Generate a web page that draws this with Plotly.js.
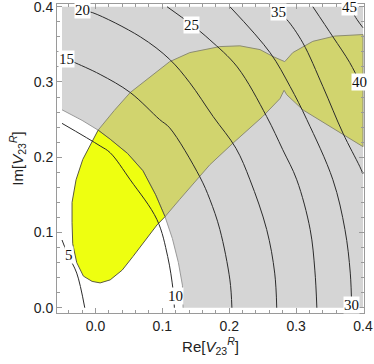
<!DOCTYPE html>
<html>
<head>
<meta charset="utf-8">
<script src="https://cdn.plot.ly/plotly-3.0.1.min.js"></script>
<style>
  body { margin: 0; background: white; }
  #plot { width: 374px; height: 364px; }
</style>
</head>
<body>
<div id="plot"></div>
<script>
// contour levels and the points (x = Re, y = Im)
const levels = [5, 10, 15, 20, 25, 30, 35, 40, 45];
const contourX = [
    [-0.050, -0.041, -0.028, -0.016],
    [-0.050, 0.007, 0.022, 0.052, 0.092, 0.108, 0.116, 0.118],
    [-0.044, -0.034, 0.007, 0.052, 0.096, 0.111, 0.156, 0.171, 0.186, 0.201, 0.204],
    [-0.019, -0.004, 0.067, 0.111, 0.141, 0.176, 0.210, 0.231, 0.256, 0.268, 0.271],
    [0.107, 0.144, 0.171, 0.212, 0.256, 0.280, 0.301, 0.321, 0.328, 0.331],
    [0.201, 0.261, 0.291, 0.316, 0.355, 0.373, 0.381, 0.383],
    [0.273, 0.286, 0.310, 0.340, 0.370, 0.395, 0.400],
    [0.325, 0.355, 0.380, 0.395, 0.400],
    [0.380, 0.391, 0.400]
];
const contourY = [
    [0.090, 0.070, 0.046, 0.000],
    [0.245, 0.215, 0.206, 0.170, 0.117, 0.068, 0.024, 0.000],
    [0.331, 0.327, 0.310, 0.286, 0.250, 0.239, 0.174, 0.144, 0.104, 0.037, 0.000],
    [0.395, 0.392, 0.360, 0.330, 0.299, 0.254, 0.212, 0.170, 0.104, 0.046, 0.000],
    [0.400, 0.376, 0.356, 0.320, 0.254, 0.210, 0.170, 0.104, 0.050, 0.000],
    [0.400, 0.339, 0.294, 0.250, 0.170, 0.104, 0.046, 0.000],
    [0.393, 0.383, 0.352, 0.294, 0.232, 0.188, 0.178],
    [0.400, 0.360, 0.326, 0.300, 0.290],
    [0.399, 0.383, 0.372]
];
const labelX = [-0.040, 0.119, -0.044, -0.019, 0.144, 0.383, 0.273, 0.395, 0.380];
const labelY = [0.070, 0.015, 0.331, 0.395, 0.376, 0.004, 0.393, 0.300, 0.399];

// inner edge of the grey region, from the bottom up to the left edge
const arcX = [0.131, 0.130, 0.124, 0.115, 0.104, 0.090, 0.071, 0.048, 0.022, 0.004, -0.020, -0.050];
const arcY = [0.000, 0.030, 0.060, 0.092, 0.121, 0.150, 0.182, 0.205, 0.224, 0.236, 0.249, 0.263];

// yellow-green band: upper edge left->right, then lower edge right->left
const bandTopX = [0.004, 0.028, 0.052, 0.111, 0.141, 0.186, 0.216, 0.246, 0.265, 0.276, 0.283, 0.295, 0.325, 0.358, 0.400];
const bandTopY = [0.236, 0.262, 0.286, 0.327, 0.339, 0.347, 0.348, 0.343, 0.334, 0.330, 0.327, 0.339, 0.354, 0.361, 0.363];
const bandLowX = [0.400, 0.351, 0.310, 0.286, 0.282, 0.276, 0.250, 0.206, 0.171, 0.126, 0.104];
const bandLowY = [0.214, 0.241, 0.263, 0.283, 0.289, 0.278, 0.254, 0.219, 0.190, 0.144, 0.121];

// bright yellow lobe: left side top->bottom, then right side up to the arc
const eggX = [0.004, -0.019, -0.029, -0.035, -0.035, -0.034, -0.028, -0.018, -0.005, 0.007, 0.022, 0.040, 0.056, 0.075, 0.092, 0.104];
const eggY = [0.236, 0.197, 0.170, 0.140, 0.113, 0.085, 0.060, 0.042, 0.035, 0.033, 0.037, 0.050, 0.068, 0.090, 0.110, 0.121];

const grey = '#d5d5d5';
const olive = '#d1d46e';
const yellow = '#eeff10';

var greyTrace = {
    x: [-0.05, 0.4, 0.4].concat(arcX),
    y: [0.4, 0.4, 0.0].concat(arcY),
    type: 'scatter',
    mode: 'lines',
    fill: 'toself',
    fillcolor: grey,
    line: { width: 0 },
    hoverinfo: 'skip'
};

var arcTrace = {
    x: arcX,
    y: arcY,
    type: 'scatter',
    mode: 'lines',
    line: { color: '#9a9a9a', width: 1 },
    hoverinfo: 'skip'
};

// band is closed along the arc (the part of the arc above the junction)
var arcUpX = arcX.slice(4, 10);
var arcUpY = arcY.slice(4, 10);
var bandTrace = {
    x: bandTopX.concat(bandLowX, arcUpX.slice(1)),
    y: bandTopY.concat(bandLowY, arcUpY.slice(1)),
    type: 'scatter',
    mode: 'lines',
    fill: 'toself',
    fillcolor: olive,
    line: { color: '#8c8c72', width: 1 },
    hoverinfo: 'skip'
};

var eggTrace = {
    x: eggX.concat(arcUpX.slice(1)),
    y: eggY.concat(arcUpY.slice(1)),
    type: 'scatter',
    mode: 'lines',
    fill: 'toself',
    fillcolor: yellow,
    line: { color: '#5a5a40', width: 1 },
    hoverinfo: 'skip'
};

var data = [greyTrace, arcTrace, bandTrace, eggTrace];

levels.forEach(function (lev, i) {
    data.push({
        x: contourX[i],
        y: contourY[i],
        type: 'scatter',
        mode: 'lines',
        line: { color: '#2b2b2b', width: 1, shape: 'spline', smoothing: 1 },
        hoverinfo: 'skip'
    });
});

var annotations = levels.map(function (lev, i) {
    return {
        x: labelX[i],
        y: labelY[i],
        xref: 'x',
        yref: 'y',
        text: String(lev),
        showarrow: false,
        bgcolor: 'white',
        borderpad: 0,
        font: { family: 'Liberation Serif', size: 15, color: '#111' }
    };
});

var axisCommon = {
    tickmode: 'linear',
    tick0: 0,
    dtick: 0.1,
    tickformat: '.1f',
    ticks: 'inside',
    ticklen: 5,
    tickwidth: 1,
    tickcolor: '#9a9a9a',
    showline: true,
    linecolor: '#9a9a9a',
    linewidth: 1,
    mirror: 'allticks',
    showgrid: false,
    zeroline: false,
    ticklabeloverflow: 'allow',
    minor: { ticks: 'inside', tick0: 0, dtick: 0.02, ticklen: 3, tickcolor: '#9a9a9a' },
    tickfont: { family: 'Liberation Sans', size: 14, color: '#222' }
};

var layout = {
    width: 374,
    height: 364,
    margin: { l: 57, r: 10, t: 4, b: 51 },
    paper_bgcolor: 'white',
    plot_bgcolor: 'white',
    showlegend: false,
    annotations: annotations,
    xaxis: Object.assign({}, axisCommon, {
        range: [-0.0575, 0.4015],
        title: {
            text: 'Re[<i>V</i><sub>23</sub><sup><i>R</i></sup>]',
            font: { family: 'Liberation Sans', size: 15, color: '#222' },
            standoff: 8
        }
    }),
    yaxis: Object.assign({}, axisCommon, {
        range: [-0.007, 0.4036],
        title: {
            text: 'Im[<i>V</i><sub>23</sub><sup><i>R</i></sup>]',
            font: { family: 'Liberation Sans', size: 15, color: '#222' },
            standoff: 6
        }
    })
};

Plotly.newPlot('plot', data, layout, { staticPlot: true });
</script>
</body>
</html>
